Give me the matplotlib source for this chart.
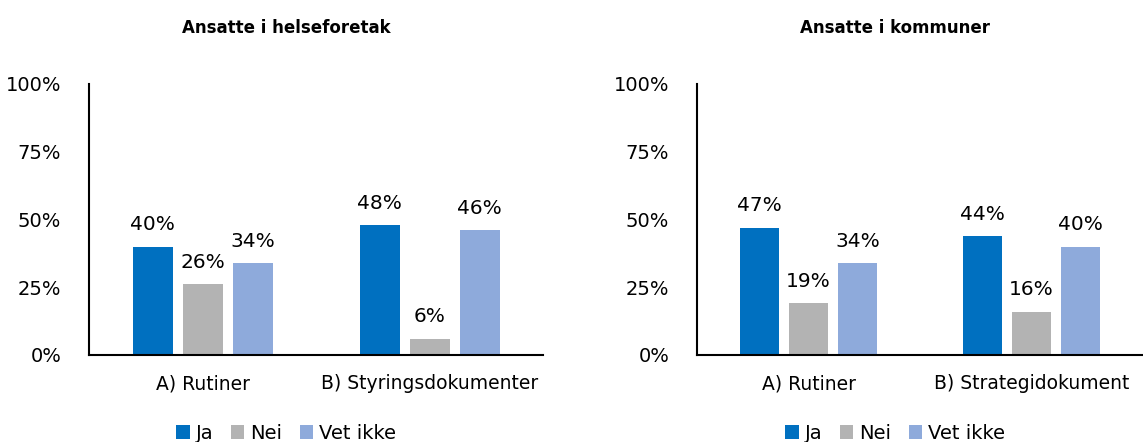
import numpy as np
import matplotlib.pyplot as plt

plt.rcParams['font.family'] = ['DejaVu Sans']

series = ["Ja", "Nei", "Vet ikke"]
colors = ["#0070C0", "#B3B3B3", "#8EAADB"]

titles = ["Ansatte i helseforetak", "Ansatte i kommuner"]
cats = [["A) Rutiner", "B) Styringsdokumenter"],
        ["A) Rutiner", "B) Strategidokument"]]

helse_ja = [40, 48]
helse_nei = [26, 6]
helse_vet = [34, 46]

komm_ja = [47, 44]
komm_nei = [19, 16]
komm_vet = [34, 40]

data = [[helse_ja, helse_nei, helse_vet], [komm_ja, komm_nei, komm_vet]]

fig = plt.figure(figsize=(11.43, 4.42), dpi=100)
axes = [fig.add_axes([89/1143, 0.197, 454/1143, 0.613]),
        fig.add_axes([697/1143, 0.197, 446/1143, 0.613])]
center_x = [286/1143, 895/1143]

w = 40/227
step = 50/227
for ax, title, cl, vals, cx in zip(axes, titles, cats, data, center_x):
    x = np.arange(len(cl))
    handles = []
    for i, (name, col, v) in enumerate(zip(series, colors, vals)):
        b = ax.bar(x + (i - 1) * step, v, w, color=col, label=name)
        handles.append(b)
        for xi, vi in zip(x + (i - 1) * step, v):
            ax.text(xi, vi + 4.5, f"{vi}%", ha='center', va='bottom', fontsize=14.5)
    ax.set_xlim(-0.5, 1.5)
    ax.set_ylim(0, 100)
    ax.set_yticks([0, 25, 50, 75, 100])
    ax.set_yticklabels([f"{t}%" for t in [0, 25, 50, 75, 100]])
    ax.set_xticks(x)
    ax.set_xticklabels(cl)
    ax.tick_params(axis='y', length=0, pad=20, labelsize=14)
    ax.tick_params(axis='x', length=0, pad=14, labelsize=13.5)
    for s in ['top', 'right']:
        ax.spines[s].set_visible(False)
    for s in ['left', 'bottom']:
        ax.spines[s].set_linewidth(1.5)
    fig.text(cx, 1 - 28/442, title, ha='center', va='center',
             fontsize=12, fontweight='bold')
    fig.legend(handles=handles, loc='center', bbox_to_anchor=(cx, 0.02),
               ncol=3, frameon=False, fontsize=14, handlelength=0.7,
               handleheight=0.7, handletextpad=0.3, columnspacing=0.9)

fig.savefig("out.png", dpi=100)
